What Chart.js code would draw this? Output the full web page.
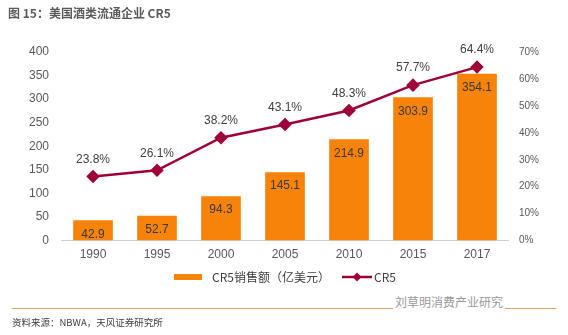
<!DOCTYPE html>
<html><head><meta charset="utf-8">
<script src="https://cdn.jsdelivr.net/npm/chart.js@4"></script>
<style>
html,body{margin:0;padding:0;background:#fff;}
#wrap{position:relative;width:568px;height:335px;overflow:hidden;}
#c{position:absolute;left:0;top:0;}
.t{position:absolute;white-space:nowrap;}
#title{left:8px;top:4px;font:bold 12px "Noto Sans CJK SC","Liberation Sans",sans-serif;color:#5a5a5a;}
#rule{position:absolute;left:12px;top:308px;width:544px;height:0;border-top:1px solid #D9A861;}
#src{left:12px;top:315px;font:9.5px "Noto Sans CJK SC","Liberation Sans",sans-serif;color:#404040;}
#wm{left:393px;top:293px;font:12px "Noto Sans CJK SC",sans-serif;color:#9a9a9a;background:#fff;padding:0 2px;}
</style></head>
<body><div id="wrap">
<canvas id="c" width="568" height="335"></canvas>
<div class="t" id="title">图 15：美国酒类流通企业 CR5</div>
<div id="rule"></div>
<div class="t" id="src">资料来源：NBWA，天风证券研究所</div>
<div class="t" id="wm">刘草明消费产业研究</div>
</div>
<script>
const categories = ['1990','1995','2000','2005','2010','2015','2017'];
const salesValues = [42.9, 52.7, 94.3, 145.1, 214.9, 303.9, 354.1];
const cr5Values = [23.8, 26.1, 38.2, 43.1, 48.3, 57.7, 64.4];
const salesLabel = 'CR5销售额（亿美元）';
const cr5Label = 'CR5';

const ORANGE = '#F7830A';
const RED = '#A0003A';
const FONT = '"Liberation Sans", Arial, sans-serif';

function makeBarIcon(){
  const c=document.createElement('canvas');c.width=28;c.height=6;
  const x=c.getContext('2d');x.fillStyle=ORANGE;x.fillRect(0,0,28,6);return c;
}
function makeLineIcon(){
  const c=document.createElement('canvas');c.width=44;c.height=10;
  const x=c.getContext('2d');x.strokeStyle=RED;x.lineWidth=2.5;
  x.beginPath();x.moveTo(14,5);x.lineTo(44,5);x.stroke();
  x.fillStyle=RED;x.beginPath();x.moveTo(29,0.5);x.lineTo(33.5,5);x.lineTo(29,9.5);x.lineTo(24.5,5);x.closePath();x.fill();
  return c;
}
const barIcon=makeBarIcon(), lineIcon=makeLineIcon();

const labelPlugin = {
  id:'vals',
  afterDatasetsDraw(chart){
    const ctx=chart.ctx;
    ctx.save();
    ctx.font='12px '+FONT;
    ctx.textAlign='center';ctx.textBaseline='middle';
    const mb=chart.getDatasetMeta(1);
    mb.data.forEach((el,i)=>{
      ctx.fillStyle='#3a3a3a';
      ctx.fillText(salesValues[i].toFixed(1), el.x, el.y+14);
    });
    const ml=chart.getDatasetMeta(0);
    ml.data.forEach((el,i)=>{
      ctx.fillStyle='#404040';
      ctx.fillText(cr5Values[i].toFixed(1)+'%', el.x, el.y-17);
    });
    ctx.restore();
  }
};

new Chart(document.getElementById('c'), {
  data:{
    labels:categories,
    datasets:[
      {type:'line',label:cr5Label,data:cr5Values,yAxisID:'y1',borderColor:RED,backgroundColor:RED,
       borderWidth:2.5,pointStyle:'rectRot',pointRadius:5,pointHoverRadius:5,tension:0,order:0},
      {type:'bar',label:salesLabel,data:salesValues,yAxisID:'y',backgroundColor:ORANGE,
       barPercentage:0.62,categoryPercentage:1,order:1}
    ]
  },
  options:{
    responsive:false,animation:false,
    layout:{padding:{top:52,left:17,right:19,bottom:42}},
    plugins:{
      tooltip:{enabled:false},
      legend:{position:'bottom',
        labels:{usePointStyle:true,pointStyleWidth:36,padding:2,color:'#404040',
          font:{size:12,family:'"Noto Sans CJK SC", "Liberation Sans", sans-serif'},
          generateLabels(chart){
            return [
              {text:salesLabel,pointStyle:barIcon,fillStyle:ORANGE,strokeStyle:ORANGE,lineWidth:0,datasetIndex:1,fontColor:'#404040'},
              {text:cr5Label,pointStyle:lineIcon,fillStyle:RED,strokeStyle:RED,lineWidth:0,datasetIndex:0,fontColor:'#404040'}
            ];
          }
        }
      }
    },
    scales:{
      x:{grid:{display:false,drawTicks:false},border:{display:true,color:'#d0d0d0'},
         ticks:{color:'#595959',font:{size:12,family:FONT},padding:7}},
      y:{position:'left',min:0,max:400,grid:{display:false,drawTicks:false},border:{display:false},
         ticks:{stepSize:50,color:'#595959',font:{size:12,family:FONT},padding:12}},
      y1:{position:'right',min:0,max:70,grid:{display:false,drawTicks:false},border:{display:false},
         ticks:{stepSize:10,color:'#595959',font:{size:10,family:FONT},padding:10,callback:v=>v+'%'}}
    }
  },
  plugins:[labelPlugin]
});
</script>
</body></html>
